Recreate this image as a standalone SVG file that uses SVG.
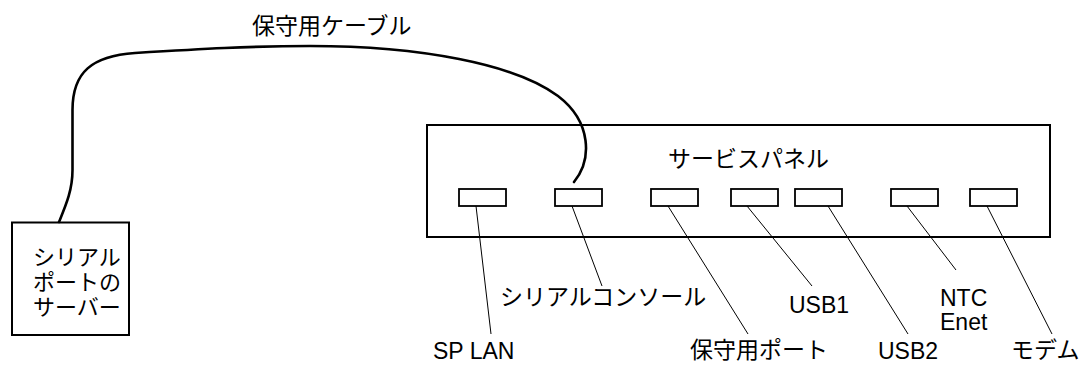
<svg xmlns="http://www.w3.org/2000/svg" width="1082" height="365" viewBox="0 0 1082 365">
<style>
.box{fill:#fff;stroke:#000;stroke-width:2}
.port{fill:#fff;stroke:#000;stroke-width:1.8}
.cable{fill:none;stroke:#000;stroke-width:2.6;stroke-linecap:round}
.lead{fill:none;stroke:#000;stroke-width:1}
.jp{font-family:"Liberation Sans","Noto Sans CJK JP",sans-serif;font-size:23px;fill:#000}
.jb{font-family:"Liberation Sans","Noto Sans CJK JP",sans-serif;font-size:22px;fill:#000}
.en{font-family:"Liberation Sans",Arial,sans-serif;font-size:23px;fill:#000}
</style>
<rect width="1082" height="365" fill="#fff"/>
<g id="server">
<rect class="box" x="12" y="222.5" width="117" height="112.5"/>
<text class="jb" x="33" y="265">シリアル</text>
<text class="jb" x="33" y="290">ポートの</text>
<text class="jb" x="33" y="315">サーバー</text>
</g>
<g id="panel">
<rect class="box" x="427" y="125" width="623" height="112"/>
<text class="jp" x="668" y="167">サービスパネル</text>
</g>
<g id="ports">
<rect id="port-splan" class="port" x="459" y="189" width="47" height="17"/>
<rect id="port-console" class="port" x="555" y="189" width="47" height="17"/>
<rect id="port-maint" class="port" x="651" y="189" width="47" height="17"/>
<rect id="port-usb1" class="port" x="731" y="189" width="47" height="17"/>
<rect id="port-usb2" class="port" x="795" y="189" width="47" height="17"/>
<rect id="port-ntc" class="port" x="891" y="189" width="47" height="17"/>
<rect id="port-modem" class="port" x="970" y="189" width="47" height="17"/>
</g>
<g id="connectors">
<path class="cable" d="M59 222 C66 205 72.5 190 72.5 170 L72.5 110 C72.5 72 92 56 135 53 C200 49 250 46 310 46 C420 46 515 64 558 96 C592 122 592 160 574 182"/>
<line class="lead" x1="476" y1="206" x2="491" y2="334"/>
<line class="lead" x1="572" y1="206" x2="602" y2="286"/>
<line class="lead" x1="668" y1="206" x2="748" y2="334"/>
<line class="lead" x1="747" y1="206" x2="812" y2="286"/>
<line class="lead" x1="828" y1="206" x2="908" y2="334"/>
<line class="lead" x1="907" y1="206" x2="956" y2="270"/>
<line class="lead" x1="987" y1="206" x2="1052" y2="334"/>
</g>
<g id="labels">
<text class="jp" x="252" y="34">保守用ケーブル</text>
<text class="en" x="433" y="359">SP LAN</text>
<text class="jp" x="500" y="305">シリアルコンソール</text>
<text class="jp" x="690" y="358">保守用ポート</text>
<text class="en" x="789" y="313">USB1</text>
<text class="en" x="878" y="359">USB2</text>
<text class="en" x="940" y="305.5">NTC</text>
<text class="en" x="940" y="330">Enet</text>
<text class="jp" x="1011" y="358">モデム</text>
</g>
</svg>
